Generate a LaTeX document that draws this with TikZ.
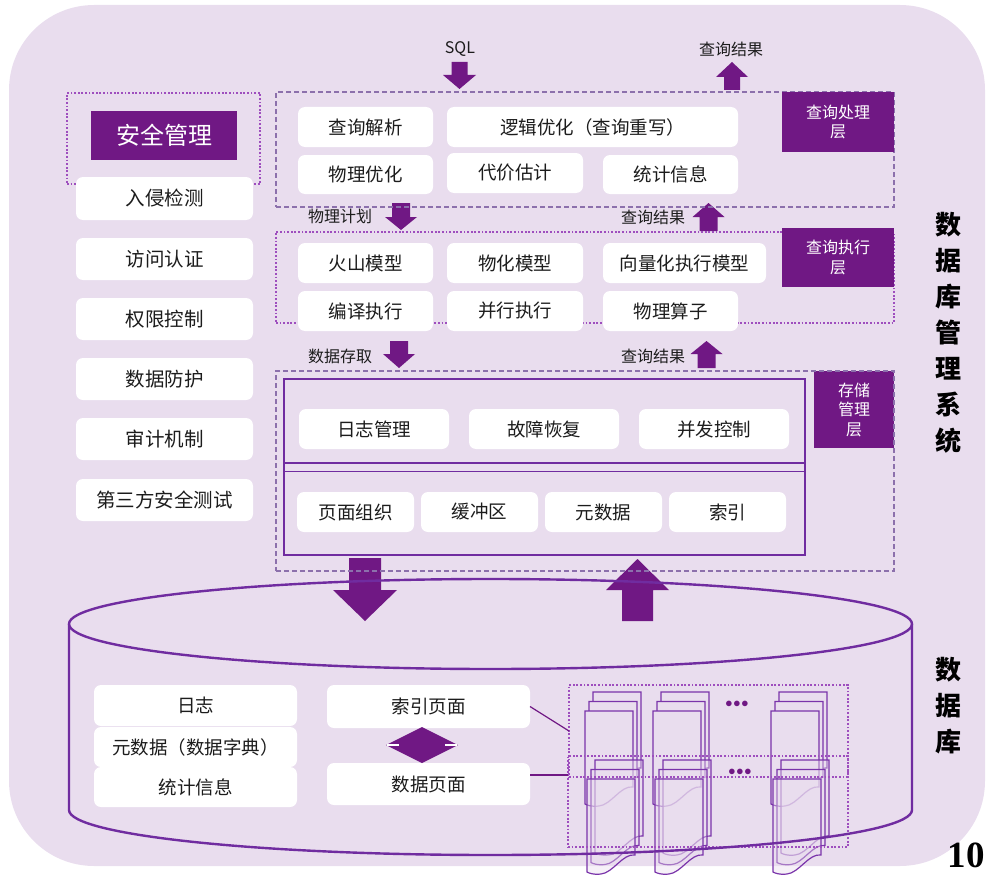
\documentclass[tikz,border=0pt]{standalone}
\usepackage{fontspec}
\setmainfont{Noto Sans CJK SC}
\newfontfamily\numfont{Liberation Serif}

\definecolor{bg}{RGB}{233,221,238}
\definecolor{purp}{RGB}{112,24,132}
\definecolor{cyl}{RGB}{112,44,160}
\definecolor{dashc}{RGB}{140,112,172}
\definecolor{dotc}{RGB}{158,78,190}
\definecolor{pagec}{RGB}{122,52,170}
\definecolor{txt}{RGB}{28,28,28}

\tikzset{
  wbox/.style={fill=white, rounded corners=7pt, inner sep=0pt, outer sep=0pt,
    text=txt, font=\fontsize{18.5}{22}\selectfont},
  tagbox/.style={fill=purp, text=white, inner sep=0pt, outer sep=0pt, align=center,
    font=\fontsize{16}{19.5}\selectfont},
  dashrect/.style={draw=dashc, line width=1.6pt, dash pattern=on 5pt off 3pt,
    inner sep=0pt, outer sep=0pt},
  dotrect/.style={draw=dotc, line width=1.3pt, dash pattern=on 1.8pt off 1.8pt,
    inner sep=0pt, outer sep=0pt},
  flowlbl/.style={text=txt, font=\fontsize{16}{18}\selectfont, inner sep=0pt},
  page/.style={draw=pagec, line width=1.2pt, fill=bg},
  link/.style={draw=purp, line width=1.2pt},
}

% rectangular node from its corners: [style]{name}{x1}{y1}{x2}{y2}{text}
\newcommand\bx[7][wbox]{%
  \node[#1, minimum width={#5-#3}, minimum height={#6-#4}] (#2)
    at ({(#3+#5)/2},{(#4+#6)/2}) {#7};}

% block arrow: centre x, shaft end, head base, tip, shaft half width, head half width
\newcommand\blockarrow[6]{%
  \fill[purp] ({#1-#5},#2) -- ({#1+#5},#2) -- ({#1+#5},#3) -- ({#1+#6},#3)
    -- (#1,#4) -- ({#1-#6},#3) -- ({#1-#5},#3) -- cycle;}

% one document page with a wavy lower edge, top-left corner given
\newcommand\docpage[3][]{%
  \filldraw[page,#1] (#2,#3) -- ({#2+48},#3) -- ({#2+48},{#3+76})
    .. controls ({#2+36},{#3+74}) and ({#2+26},{#3+94}) .. ({#2+14},{#3+95})
    .. controls ({#2+6},{#3+96}) and ({#2+2},{#3+94}) .. (#2,{#3+93}) -- cycle;}
% a stack of three pages, front page top-left given
\newcommand\pagestack[3][]{%
  \docpage[#1]{#2+8}{#3-19}\docpage[#1]{#2+4}{#3-9.5}\docpage[#1]{#2}{#3}}

\begin{document}
\begin{tikzpicture}[x=1pt,y=-1pt]
\useasboundingbox (0,0) rectangle (986,875);

% panel
\fill[bg, rounded corners=85pt] (9,5) rectangle (985,866);

% ---------- flow arrows ----------
\node[flowlbl] (sql) at (460,49) {SQL};
\node[flowlbl] (res0) at (731,49) {查询结果};
\blockarrow{459.5}{62}{75}{89}{8}{16.5}
\blockarrow{732}{90}{77}{62}{8}{16}

\node[flowlbl] (plan) at (340,216) {物理计划};
\node[flowlbl] (res1) at (653,217) {查询结果};
\blockarrow{401}{203}{217}{230}{9}{16}
\blockarrow{708.5}{231}{217}{203}{9}{16}

\node[flowlbl] (access) at (340,356) {数据存取};
\node[flowlbl] (res2) at (653,356) {查询结果};
\blockarrow{399}{341}{354}{368}{9}{16}
\blockarrow{706.5}{368}{354}{341}{9}{16}

\blockarrow{365}{558}{590}{621}{16}{32}
\blockarrow{637.5}{621}{590}{559}{15.5}{31.5}

% ---------- database ----------
\pagestack{585}{711}
\pagestack{653}{711}
\pagestack{771}{711}
\pagestack[fill opacity=0.4]{587}{779}
\pagestack[fill opacity=0.4]{655}{779}
\pagestack[fill opacity=0.4]{773}{779}

\node[text=purp, font=\fontsize{14}{14}\selectfont\bfseries] (dots1) at (737,704) {$\bullet\!\bullet\!\bullet$};
\node[text=purp, font=\fontsize{14}{14}\selectfont\bfseries] (dots2) at (740,772) {$\bullet\!\bullet\!\bullet$};

\bx[dotrect]{pgup}{569}{685}{848}{777}{}
\bx[dotrect]{pglo}{568}{756}{848}{847}{}

% cylinder outline
\draw[cyl, line width=2.4pt] (490.5,624) ellipse [x radius=421.5, y radius=45];
\draw[cyl, line width=2.4pt] (69,624) -- (69,810)
  arc[start angle=180, end angle=0, x radius=421.5, y radius=45] -- (912,624);

\bx{dblog}{94}{685}{297}{726}{日志}
\bx{dbmeta}{94}{727}{297}{767}{元数据（数据字典）}
\bx{dbstat}{94}{767}{297}{807}{统计信息}
\bx{idxpg}{327}{685}{530}{728}{索引页面}
\bx{datapg}{327}{763}{530}{805}{数据页面}

% two-way arrow between the page kinds
\fill[purp] (422,727) -- (458,745) -- (422,763) -- (386,745) -- cycle;
\draw[white, line width=1.2pt] (387,745) -- (399,745) (445,745) -- (457,745);

\draw[link] (idxpg.east) -- (pgup.west);
\draw[link] ([yshift=9pt]datapg.east) -- ([yshift=9pt]datapg.east -| pglo.west);

% ---------- security ----------
\bx[dotrect]{secgrp}{67}{93}{260}{184}{}
\bx[tagbox, font=\fontsize{24}{26}\selectfont]{sec}{91}{111}{237}{160}{安全管理}
\bx[wbox, font=\fontsize{19.5}{22}\selectfont]{s1}{76}{177}{253}{220}{入侵检测}
\bx[wbox, font=\fontsize{19.5}{22}\selectfont]{s2}{76}{238}{253}{280}{访问认证}
\bx[wbox, font=\fontsize{19.5}{22}\selectfont]{s3}{76}{298}{253}{340}{权限控制}
\bx[wbox, font=\fontsize{19.5}{22}\selectfont]{s4}{76}{358}{253}{400}{数据防护}
\bx[wbox, font=\fontsize{19.5}{22}\selectfont]{s5}{76}{418}{253}{460}{审计机制}
\bx[wbox, font=\fontsize{19.5}{22}\selectfont]{s6}{76}{479}{253}{521}{第三方安全测试}

% ---------- query processing layer ----------
\bx[dashrect]{qp}{276}{92}{894}{207}{}
\bx[tagbox]{qptag}{782}{92}{894}{152}{查询处理\\层}
\bx{qp1}{298}{107}{433}{147}{查询解析}
\bx{qp2}{447}{107}{738}{147}{逻辑优化（查询重写）}
\bx{qp3}{298}{155}{433}{194}{物理优化}
\bx{qp4}{447}{153}{583}{193}{代价估计}
\bx{qp5}{603}{155}{738}{194}{统计信息}

% ---------- query execution layer ----------
\bx[dotrect]{qe}{276}{232}{894}{323}{}
\bx[tagbox]{qetag}{782}{228}{894}{287}{查询执行\\层}
\bx{qe1}{298}{243}{433}{283}{火山模型}
\bx{qe2}{447}{243}{583}{283}{物化模型}
\bx{qe3}{603}{243}{766}{283}{向量化执行模型}
\bx{qe4}{298}{291}{433}{331}{编译执行}
\bx{qe5}{447}{291}{583}{331}{并行执行}
\bx{qe6}{603}{291}{738}{331}{物理算子}

% ---------- storage layer ----------
\bx[tagbox]{sttag}{814}{371}{894}{448}{存储\\管理\\层}
\bx[dashrect]{st}{276}{371}{894}{571}{}
\draw[draw=cyl, line width=1.3pt] (284,379) rectangle (805,555);
\draw[draw=cyl, line width=1.3pt] (284,463) -- (805,463) (284,471.5) -- (805,471.5);
\bx{st1}{299}{409}{449}{449}{日志管理}
\bx{st2}{469}{409}{619}{449}{故障恢复}
\bx{st3}{639}{409}{789}{449}{并发控制}
\bx{st4}{297}{492}{414}{532}{页面组织}
\bx{st5}{421}{492}{538}{532}{缓冲区}
\bx{st6}{545}{492}{662}{532}{元数据}
\bx{st7}{669}{492}{786}{532}{索引}

% ---------- side titles ----------
\node[text=black, align=center, inner sep=0pt, font=\fontsize{26}{36}\selectfont\bfseries]
  (dbms) at (948,333) {数\\据\\库\\管\\理\\系\\统};
\node[text=black, align=center, inner sep=0pt, font=\fontsize{26}{36}\selectfont\bfseries]
  (db) at (948,706) {数\\据\\库};
\node[text=black, inner sep=0pt, font=\numfont\bfseries\fontsize{37}{37}\selectfont]
  (pgno) at (966,855) {10};
\end{tikzpicture}
\end{document}
